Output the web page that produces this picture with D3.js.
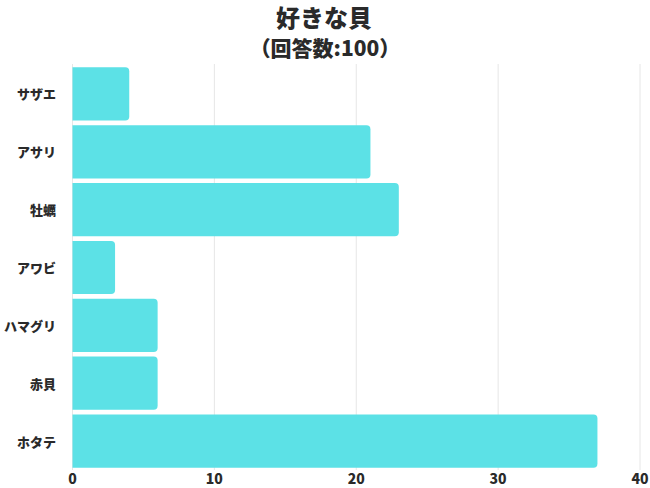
<!DOCTYPE html>
<html><head><meta charset="utf-8">
<script src="https://cdn.jsdelivr.net/npm/d3@7"></script>
<style>
html,body{margin:0;padding:0;background:#fff;}
svg{display:block;font-family:"Noto Sans CJK JP","Noto Sans",sans-serif;}
</style></head>
<body>
<svg id="chart" width="650" height="488"></svg>
<script>
const categories = ["サザエ","アサリ","牡蠣","アワビ","ハマグリ","赤貝","ホタテ"];
const values = [4,21,23,3,6,6,37];
const tickValues = [0,10,20,30,40];
const title = "好きな貝";
const subtitle = "（回答数:100）";

const svg = d3.select("#chart");
const x = d3.scaleLinear().domain([0,40]).range([72.5,640]);
const y = d3.scaleBand().domain(categories).range([65,470]).paddingInner(0.08).paddingOuter(0.04);
const textColor = "#2a2a2a";

// gridlines
svg.append("g").selectAll("line").data(tickValues).join("line")
  .attr("x1", d=>x(d)).attr("x2", d=>x(d))
  .attr("y1", 64).attr("y2", 470)
  .attr("stroke", "#e6e6e6").attr("stroke-width", 1);

// bars with right rounded corners
const r = 4;
svg.append("g").selectAll("path").data(categories).join("path")
  .attr("fill", "#5ce1e6")
  .attr("d", (c,i)=>{
    const x0 = x(0), x1 = x(values[i]), y0 = y(c), h = y.bandwidth();
    return `M${x0},${y0}H${x1-r}Q${x1},${y0} ${x1},${y0+r}V${y0+h-r}Q${x1},${y0+h} ${x1-r},${y0+h}H${x0}Z`;
  });

// y labels
svg.append("g").selectAll("text").data(categories).join("text")
  .attr("x", 56).attr("y", d=>y(d)+y.bandwidth()/2)
  .attr("text-anchor","end").attr("dominant-baseline","central")
  .attr("font-size", 13).attr("font-weight", 900).attr("fill", textColor)
  .text(d=>d);

// x tick labels
svg.append("g").selectAll("text").data(tickValues).join("text")
  .attr("x", d=>x(d)).attr("y", 484)
  .attr("text-anchor","middle")
  .attr("font-size", 14).attr("font-weight", 900).attr("fill", textColor)
  .text(d=>d);

// titles
svg.append("text").attr("x", 324).attr("y", 27)
  .attr("text-anchor","middle").attr("font-size", 24).attr("font-weight", 900)
  .attr("fill", textColor).text(title);
svg.append("text").attr("x", 325).attr("y", 56)
  .attr("text-anchor","middle").attr("font-size", 21).attr("font-weight", 900)
  .attr("fill", textColor).text(subtitle);
</script>
</body></html>
